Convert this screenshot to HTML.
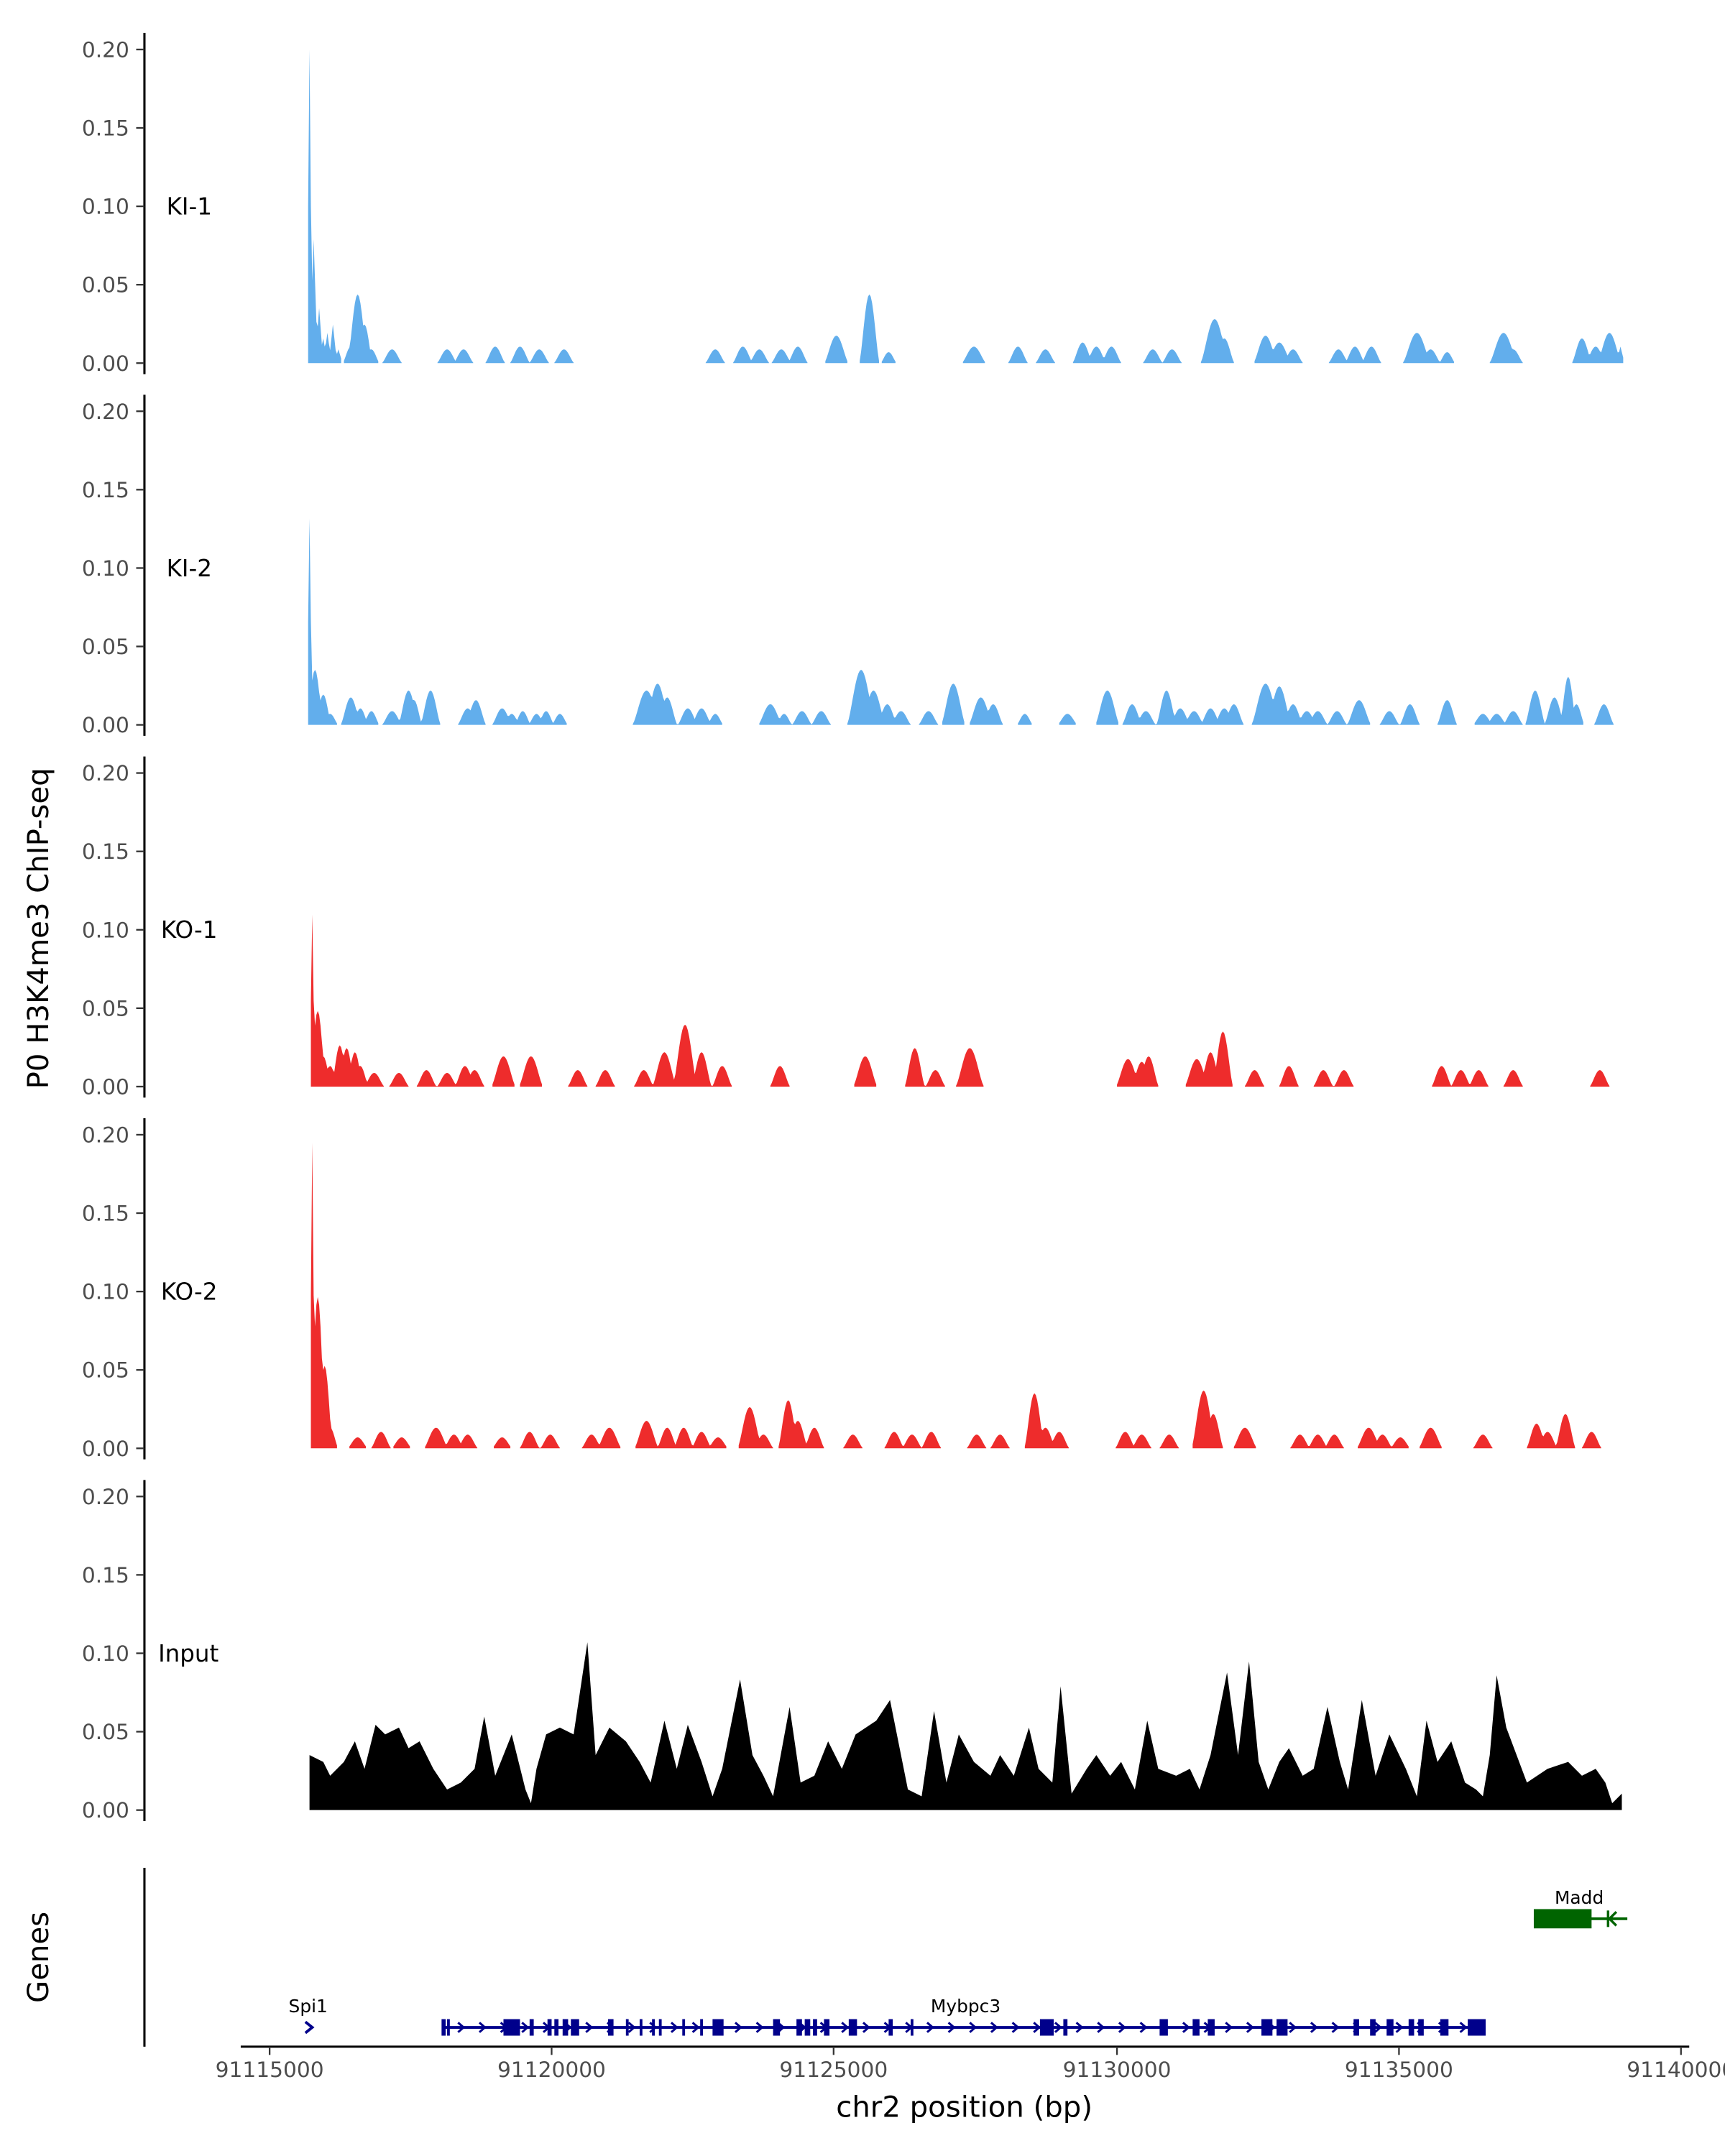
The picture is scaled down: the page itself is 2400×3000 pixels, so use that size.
<!DOCTYPE html>
<html><head><meta charset="utf-8">
<style>
html,body{margin:0;padding:0;background:#fff;}
svg{display:block;}
text{font-family:"DejaVu Sans","Liberation Sans",sans-serif;}
</style></head>
<body>
<svg id="s" width="2400" height="3000" viewBox="0 0 1254 1567.5" preserveAspectRatio="none" xmlns="http://www.w3.org/2000/svg">
<rect width="1254" height="1567.5" fill="#fff"/>
<g id="g"></g>
<text x="35" y="675" font-size="21" text-anchor="middle" transform="rotate(-90 35 675)" fill="#000">P0 H3K4me3 ChIP-seq</text>
<text x="35" y="1423" font-size="21" text-anchor="middle" transform="rotate(-90 35 1423)" fill="#000">Genes</text>
<text x="701" y="1539" font-size="21" text-anchor="middle" fill="#000">chr2 position (bp)</text>
</svg>
<script>
const NS="http://www.w3.org/2000/svg";
const g=document.getElementById('g');
function el(t,a,txt){const e=document.createElementNS(NS,t);for(const k in a)e.setAttribute(k,a[k]);if(txt!==undefined)e.textContent=txt;g.appendChild(e);return e;}
const bases=[264,527,790,1053,1316];
const names=["KI-1","KI-2","KO-1","KO-2","Input"];
const labX=[121,121,117,117,115];
bases.forEach((b,i)=>{
  el('line',{x1:105,x2:105,y1:b-240,y2:b+8,stroke:'#000','stroke-width':1.6});
  for(let k=0;k<=4;k++){const y=b-57*k;
    el('line',{x1:99,x2:105,y1:y,y2:y,stroke:'#333','stroke-width':1.2});
    el('text',{x:94,y:y+5.5,'font-size':15.5,'text-anchor':'end',fill:'#4d4d4d'},(k*0.05).toFixed(2));}
  el('text',{x:labX[i],y:b-108,'font-size':17,fill:'#000'},names[i]);
});
function peaks(b,list,color){
  const v={};
  list.forEach(([x,h,w])=>{ if(w>3) w=w*1.5; for(let xx=Math.ceil(x-w);xx<=Math.floor(x+w);xx++){const t=Math.abs(xx-x)/w;const val=w<=3? h*(1-t) : h*Math.pow(Math.cos(t*Math.PI/2),1.5);if(val>0.3)v[xx]=Math.max(v[xx]||0,val);}});
  const xs=Object.keys(v).map(Number).sort((a,b)=>a-b);
  let d='';let prev=null;
  xs.forEach((x)=>{ if(prev===null||x!==prev+1){ if(prev!==null)d+=`L${prev},${b}Z`; d+=`M${x},${b}`;} d+=`L${x},${b-Math.min(v[x],228)}`; prev=x;});
  if(prev!==null)d+=`L${prev},${b}Z`;
  el('path',{d:d,fill:color});
}
const blue='#62aeec',red='#ee2c2c';
peaks(264,[[225,228,2],[228,90,3],[232,40,3],[235,18,3],[238,22,3],[242,28,3],[246,10,3],[255,12,4],[260,50,5],[265,28,4],[270,10,4],[285,10,5],[325,10,5],[337,10,5],[360,12,5],[378,12,5],[392,10,5],[410,10,5],[520,10,5],[540,12,5],[552,10,5],[568,10,5],[580,12,5],[608,20,6],[632,50,5],[646,8,4],[708,12,6],[740,12,5],[760,10,5],[787,15,5],[797,12,5],[808,12,5],[838,10,5],[852,10,5],[883,32,7],[890,18,5],[920,20,6],[930,15,6],[940,10,5],[973,10,5],[985,12,5],[997,12,5],[1030,22,7],[1040,10,5],[1052,8,4],[1093,22,7],[1100,10,5],[1150,18,5],[1160,12,5],[1170,22,6],[1178,12,3]],blue);
peaks(527,[[225,150,2],[229,40,4],[235,22,4],[240,8,4],[255,20,5],[262,12,4],[270,10,4],[285,10,5],[297,25,5],[301,18,4],[313,25,5],[340,12,5],[346,18,5],[365,12,5],[372,8,4],[380,10,4],[390,8,4],[397,10,4],[407,8,4],[470,25,7],[478,30,6],[485,20,5],[500,12,5],[510,12,5],[520,8,4],[560,15,6],[570,8,4],[583,10,5],[597,10,5],[626,40,7],[635,25,6],[645,15,5],[655,10,5],[675,10,5],[693,30,6],[713,20,6],[722,15,5],[745,8,4],[776,8,5],[805,25,6],[823,15,5],[833,10,5],[848,25,5],[858,12,5],[868,10,5],[880,12,5],[890,12,5],[897,15,5],[920,30,7],[930,28,6],[940,15,5],[950,10,5],[958,10,5],[972,10,5],[988,18,6],[1010,10,5],[1025,15,5],[1052,18,5],[1078,8,5],[1088,8,5],[1100,10,5],[1116,25,5],[1130,20,5],[1140,35,4],[1146,15,4],[1166,15,5]],blue);
peaks(790,[[227,125,2],[231,55,4],[235,22,4],[240,15,4],[247,30,4],[252,28,4],[258,25,4],[262,15,4],[272,10,5],[290,10,5],[310,12,5],[325,10,5],[338,15,5],[345,12,5],[366,22,6],[386,22,6],[420,12,5],[440,12,5],[468,12,5],[483,25,6],[498,45,6],[510,25,5],[525,15,5],[567,15,5],[629,22,6],[665,28,5],[680,12,5],[705,28,7],[820,20,6],[830,18,5],[835,22,5],[870,20,6],[880,25,5],[889,40,5],[912,12,5],[937,15,5],[962,12,5],[977,12,5],[1048,15,5],[1062,12,5],[1075,12,5],[1100,12,5],[1163,12,5]],red);
peaks(1053,[[227,222,2],[231,110,4],[236,60,4],[240,15,4],[260,8,5],[277,12,5],[292,8,5],[317,15,6],[330,10,5],[340,10,5],[365,8,5],[385,12,5],[400,10,5],[430,10,5],[443,15,6],[470,20,6],[485,15,5],[497,15,5],[510,12,5],[522,8,5],[545,30,6],[555,10,5],[573,35,5],[580,20,5],[592,15,5],[620,10,5],[650,12,5],[663,10,5],[677,12,5],[710,10,5],[727,10,5],[752,40,5],[760,15,5],[770,12,5],[818,12,5],[830,10,5],[850,10,5],[875,42,6],[882,25,5],[905,15,6],[945,10,5],[958,10,5],[970,10,5],[995,15,6],[1005,10,5],[1018,8,5],[1040,15,6],[1078,10,5],[1117,18,5],[1125,12,5],[1138,25,5],[1157,12,5]],red);
const inp=[[225,40],[235,35],[240,25],[250,35],[258,50],[265,30],[273,62],[280,55],[290,60],[297,45],[305,50],[315,30],[325,15],[335,20],[345,30],[352,68],[360,25],[372,55],[382,15],[386,5],[390,30],[397,55],[407,60],[417,55],[427,122],[433,40],[443,60],[455,50],[465,35],[473,20],[483,65],[492,30],[500,62],[510,35],[518,10],[525,30],[538,95],[547,40],[555,25],[562,10],[574,75],[582,20],[592,25],[602,50],[612,30],[622,55],[637,65],[647,80],[655,40],[660,15],[670,10],[679,72],[688,20],[697,55],[708,35],[720,25],[727,40],[737,25],[748,60],[755,30],[765,20],[771,90],[779,12],[790,30],[797,40],[807,25],[815,35],[825,15],[834,65],[842,30],[855,25],[865,30],[872,15],[880,40],[892,100],[900,40],[908,108],[915,35],[922,15],[930,35],[937,45],[947,25],[955,30],[965,75],[974,35],[980,15],[990,80],[1000,25],[1010,55],[1022,30],[1030,10],[1037,65],[1045,35],[1055,50],[1065,20],[1073,15],[1078,10],[1083,40],[1088,98],[1095,60],[1110,20],[1125,30],[1140,35],[1150,25],[1160,30],[1167,20],[1172,5],[1179,12]];
let d='M225,1316';inp.forEach(([x,h])=>d+=`L${x},${1316-h}`);d+='L1179,1316Z';
el('path',{d:d,fill:'#000'});
el('line',{x1:105,x2:105,y1:1358,y2:1488,stroke:'#000','stroke-width':1.6});
el('line',{x1:175,x2:1228,y1:1488,y2:1488,stroke:'#000','stroke-width':1.6});
[[196,'91115000'],[401,'91120000'],[606,'91125000'],[812,'91130000'],[1017,'91135000'],[1222,'91140000']].forEach(([x,t])=>{
  el('line',{x1:x,x2:x,y1:1488,y2:1494,stroke:'#333','stroke-width':1.2});
  el('text',{x:x,y:1510,'font-size':15.5,'text-anchor':'middle',fill:'#4d4d4d'},t);});
const navy='#00008b',green='#006400';
el('path',{d:'M222,1470L227,1474L222,1478',stroke:navy,fill:'none','stroke-width':2});
el('text',{x:224,y:1463,'font-size':13,'text-anchor':'middle',fill:'#000'},'Spi1');
el('text',{x:702,y:1463,'font-size':13,'text-anchor':'middle',fill:'#000'},'Mybpc3');
el('text',{x:1148,y:1384,'font-size':13,'text-anchor':'middle',fill:'#000'},'Madd');
el('line',{x1:322,x2:1080,y1:1474,y2:1474,stroke:navy,'stroke-width':2});
for(let x=335;x<1075;x+=15.5){el('path',{d:`M${x-2},${1470.5}L${x+2},1474L${x-2},1477.5`,stroke:navy,fill:'none','stroke-width':1.6});}
[[321,3],[325,2],[366,12],[385,3],[398,3],[403,3],[409,4],[415,6],[442,4],[455,2],[465,2],[474,2],[479,2],[496,2],[509,2],[518,8],[562,5],[579,4],[585,4],[591,3],[599,4],[617,6],[646,3],[662,2],[756,10],[773,3],[843,6],[867,5],[878,5],[917,8],[928,8],[984,4],[996,4],[1008,5],[1024,4],[1031,4],[1047,6],[1067,13]].forEach(([x,w])=>el('rect',{x:x,y:1468,width:w,height:12,fill:navy}));
el('line',{x1:1115,x2:1183,y1:1395,y2:1395,stroke:green,'stroke-width':2});
el('rect',{x:1115,y:1388,width:42,height:14,fill:green});
el('path',{d:'M1175,1390L1170,1395L1175,1400',stroke:green,fill:'none','stroke-width':1.8});
el('line',{x1:1169,x2:1169,y1:1389,y2:1401,stroke:green,'stroke-width':1.8});
</script>
</body></html>
